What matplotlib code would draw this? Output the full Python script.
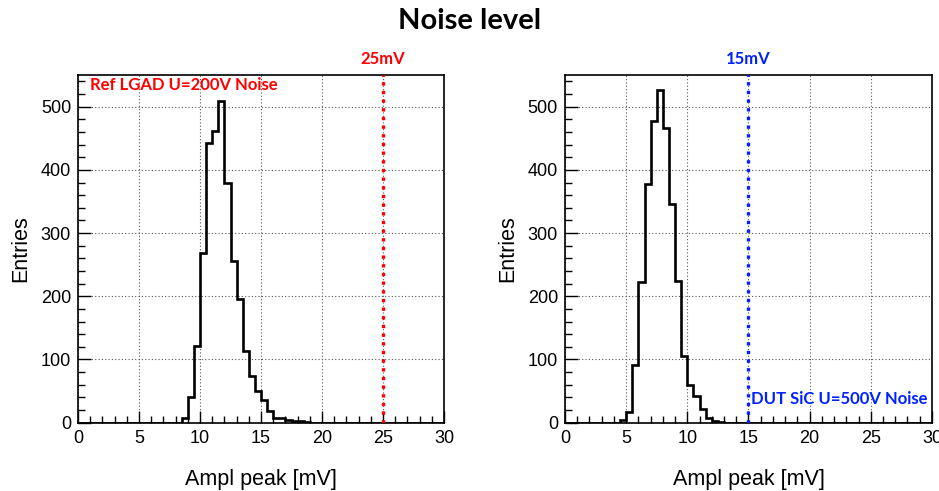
import numpy as np
import matplotlib
matplotlib.use('Agg')
import matplotlib.pyplot as plt
from matplotlib.ticker import MultipleLocator

# histogram bins: 0.5 mV wide from 0 to 30 mV
bin_edges = np.arange(0, 30.01, 0.5)

# Ref LGAD, first non-empty bin starts at 8.5 mV
ref_start = 8.5
ref_counts = [7, 40, 121, 269, 442, 461, 509, 379, 256, 196, 113, 74, 50, 36,
              19, 8, 7, 4, 3, 2, 1]

# DUT SiC, first non-empty bin starts at 4.5 mV
dut_start = 4.5
dut_counts = [4, 17, 92, 222, 378, 478, 527, 467, 346, 224, 106, 59, 42, 21,
              8, 3, 1]

ref_cut = 25
dut_cut = 15


def full_counts(start, counts):
    h = np.zeros(len(bin_edges) - 1)
    i0 = int(round(start / 0.5))
    h[i0:i0 + len(counts)] = counts
    return h


plt.rcParams['font.family'] = ['Liberation Sans', 'DejaVu Sans']
label_font = ['Lato', 'DejaVu Sans']

fig = plt.figure(figsize=(9.39, 4.91), dpi=100)
fig.text(0.5, 0.958, 'Noise level', ha='center', va='center', fontsize=21,
         fontweight='bold', family=label_font)

ax1 = fig.add_axes([0.0831, 0.1391, 0.3898, 0.708])
ax2 = fig.add_axes([0.6017, 0.1391, 0.3908, 0.708])

panels = [
    (ax1, ref_start, ref_counts, ref_cut, '#ff0000', 'Ref LGAD U=200V Noise'),
    (ax2, dut_start, dut_counts, dut_cut, '#0022ff', 'DUT SiC U=500V Noise'),
]

for ax, start, counts, cut, col, name in panels:
    ax.stairs(full_counts(start, counts), bin_edges, color='black', lw=1.9,
              zorder=3)
    ax.axvline(cut, color=col, lw=2.4, ls=(0, (1, 1.6)), zorder=4)
    ax.set_xlim(0, 30)
    ax.set_ylim(0, 550)
    ax.xaxis.set_major_locator(MultipleLocator(5))
    ax.xaxis.set_minor_locator(MultipleLocator(1))
    ax.yaxis.set_major_locator(MultipleLocator(100))
    ax.yaxis.set_minor_locator(MultipleLocator(20))
    ax.tick_params(which='both', direction='in', labelsize=13, pad=5,
                   top=False, right=False)
    ax.tick_params(which='major', length=9, width=1)
    ax.tick_params(which='minor', length=5, width=1)
    ax.grid(True, which='major', color='#555555', ls=(0, (1, 2)), lw=0.8)
    for s in ax.spines.values():
        s.set_linewidth(1.2)
    ax.set_xlabel('Ampl peak [mV]', fontsize=15.5, labelpad=16)
    ax.set_ylabel('Entries', fontsize=15.5, labelpad=7)
    # cut value above the frame
    ax.text(cut, 562, '%dmV' % cut, color=col, fontsize=12, fontweight='bold',
            ha='center', va='bottom', family=label_font)

ax1.text(1.0, 534, 'Ref LGAD U=200V Noise', color='#ff0000', fontsize=12,
         fontweight='bold', ha='left', va='center', family=label_font)
ax2.text(15.2, 38, 'DUT SiC U=500V Noise', color='#0022ff', fontsize=12,
         fontweight='bold', ha='left', va='center', family=label_font)

fig.savefig('out.png', dpi=100)
